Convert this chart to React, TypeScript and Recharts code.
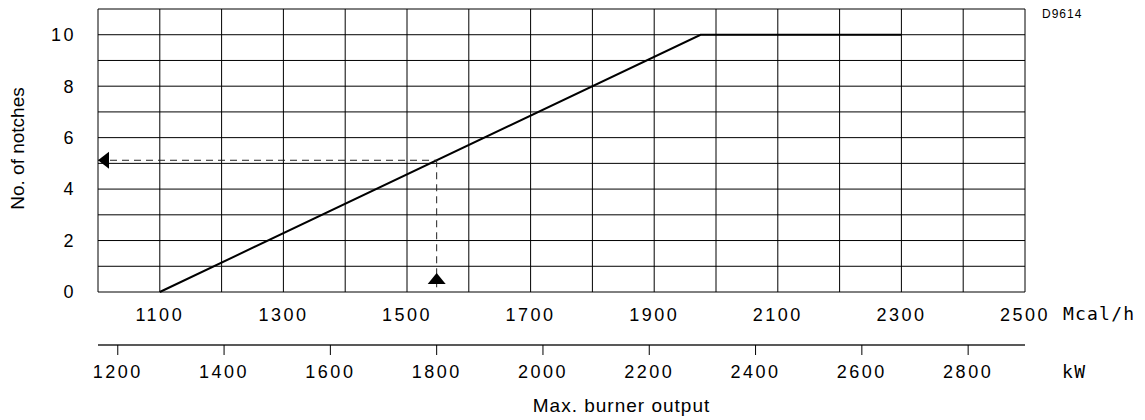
import React from 'react';
import { LineChart, Line, XAxis, YAxis, CartesianGrid, Label } from 'recharts';

// 1 kW = 0.86 Mcal/h
const MCAL_PER_KW = 0.86;

const mcalDomain = [1000, 2500];
const mcalGrid = [1000, 1100, 1200, 1300, 1400, 1500, 1600, 1700, 1800, 1900, 2000, 2100, 2200, 2300, 2400, 2500];
const mcalLabels = [1100, 1300, 1500, 1700, 1900, 2100, 2300, 2500];
const kwTicks = [1200, 1400, 1600, 1800, 2000, 2200, 2400, 2600, 2800];
const notchGrid = [0, 1, 2, 3, 4, 5, 6, 7, 8, 9, 10, 11];
const notchLabels = [0, 2, 4, 6, 8, 10];

// burner curve
const curveMcal = [1100, 1975, 2300];
const curveNotches = [0, 10, 10];

// example reading: 1800 kW -> about 5.1 notches
const exampleKw = 1800;
const exampleNotch = 5.12;

const curveData = curveMcal.map((m, i) => ({ mcal: m, notches: curveNotches[i] }));
const readAcross = [
  { mcal: mcalDomain[0], notches: exampleNotch },
  { mcal: exampleKw * MCAL_PER_KW, notches: exampleNotch },
];
const readUp = [
  { kw: exampleKw, notches: exampleNotch },
  { kw: exampleKw, notches: 0 },
];

const SANS = '"Liberation Sans", Arial, Helvetica, sans-serif';
const MONO = '"DejaVu Sans Mono", monospace';

const tickStyle = { fontFamily: SANS, fontSize: 18, fill: '#000', letterSpacing: 2.5 };

function LeftArrow(props: any) {
  const { cx, cy, index } = props;
  if (index !== 0) return <g key={`la-${index}`} />;
  return (
    <polygon
      key={`la-${index}`}
      points={`${cx},${cy} ${cx + 11},${cy - 8.5} ${cx + 11},${cy + 8.5}`}
      fill="#000"
    />
  );
}

function UpArrow(props: any) {
  const { cx, cy, index } = props;
  if (index !== readUp.length - 1) return <g key={`ua-${index}`} />;
  return (
    <polygon
      key={`ua-${index}`}
      points={`${cx},${cy - 19} ${cx - 9},${cy - 8} ${cx + 9},${cy - 8}`}
      fill="#000"
    />
  );
}

const yTitle = ({ viewBox }: any) => {
  const cx = viewBox.x + 9;
  const cy = viewBox.y + viewBox.height / 2 - 2;
  return (
    <text
      x={cx}
      y={cy}
      transform={`rotate(-90 ${cx} ${cy})`}
      textAnchor="middle"
      dominantBaseline="central"
      fontFamily={SANS}
      fontSize={19}
      fill="#000"
    >
      No. of notches
    </text>
  );
};

const mcalUnit = ({ viewBox }: any) => (
  <g>
    <text
      x={viewBox.x + viewBox.width + 38}
      y={viewBox.y + 28}
      fontFamily={MONO}
      fontSize={18}
      letterSpacing={1.2}
      fill="#000"
    >
      Mcal/h
    </text>
    <text x={viewBox.x + viewBox.width + 17} y={10} fontFamily={SANS} fontSize={12} letterSpacing={1} fill="#000">
      D9614
    </text>
  </g>
);

const kwUnit = ({ viewBox }: any) => (
  <g>
    <text
      x={viewBox.x + viewBox.width + 37}
      y={viewBox.y + 33}
      fontFamily={MONO}
      fontSize={18}
      letterSpacing={1.5}
      fill="#000"
    >
      kW
    </text>
    <text
      x={viewBox.x + viewBox.width / 2 + 60}
      y={viewBox.y + 67}
      textAnchor="middle"
      fontFamily={SANS}
      fontSize={19}
      letterSpacing={1}
      fill="#000"
    >
      Max. burner output
    </text>
  </g>
);

export default function App() {
  return (
    <LineChart width={1137} height={412} margin={{ top: 1, right: 120, left: 0, bottom: 21 }}>
      <CartesianGrid stroke="#000" strokeWidth={1} />
      <XAxis
        type="number"
        dataKey="mcal"
        domain={mcalDomain}
        ticks={mcalGrid}
        interval={0}
        height={53}
        axisLine={false}
        tickLine={false}
        tickSize={0}
        tickMargin={16}
        tick={tickStyle}
        tickFormatter={(v: number) => (mcalLabels.includes(v) ? String(v) : '')}
      >
        <Label content={mcalUnit} />
      </XAxis>
      <XAxis
        xAxisId="kw"
        type="number"
        dataKey="kw"
        domain={[mcalDomain[0] / MCAL_PER_KW, mcalDomain[1] / MCAL_PER_KW]}
        allowDataOverflow
        ticks={kwTicks}
        interval={0}
        height={54}
        axisLine={{ stroke: '#222', strokeWidth: 1.5 }}
        tickLine={{ stroke: '#000' }}
        tickSize={10}
        tickMargin={10}
        tick={tickStyle}
      >
        <Label content={kwUnit} />
      </XAxis>
      <YAxis
        type="number"
        domain={[0, 11]}
        ticks={notchGrid}
        interval={0}
        width={90}
        axisLine={false}
        tickLine={false}
        tickSize={0}
        tickMargin={22}
        tick={tickStyle}
        tickFormatter={(v: number) => (notchLabels.includes(v) ? String(v) : '')}
      >
        <Label content={yTitle} />
      </YAxis>
      <Line
        data={curveData}
        dataKey="notches"
        type="linear"
        stroke="#000"
        strokeWidth={2}
        dot={false}
        activeDot={false}
        isAnimationActive={false}
      />
      <Line
        data={readAcross}
        dataKey="notches"
        type="linear"
        stroke="#222"
        strokeWidth={1}
        strokeDasharray="7 5"
        dot={LeftArrow}
        activeDot={false}
        isAnimationActive={false}
      />
      <Line
        xAxisId="kw"
        data={readUp}
        dataKey="notches"
        type="linear"
        stroke="#222"
        strokeWidth={1}
        strokeDasharray="7 5"
        dot={UpArrow}
        activeDot={false}
        isAnimationActive={false}
      />
    </LineChart>
  );
}
